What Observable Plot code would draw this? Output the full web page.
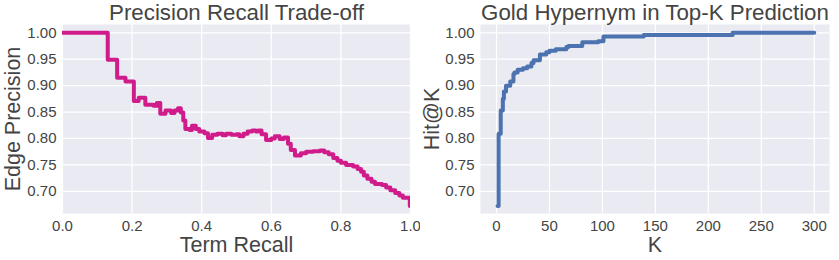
<!DOCTYPE html>
<html>
<head>
<meta charset="utf-8">
<script src="https://cdn.jsdelivr.net/npm/d3@7"></script>
<script src="https://cdn.jsdelivr.net/npm/@observablehq/plot@0.6"></script>
<style>
  html, body { margin: 0; padding: 0; background: #fff; }
  #wrap { position: relative; width: 839px; height: 260px; }
  #left, #right { position: absolute; top: 0; }
  #left { left: 0; }
  #right { left: 420px; }
</style>
</head>
<body>
<div id="wrap"><div id="left"></div><div id="right"></div></div>
<script>
// Left chart: precision-recall trade-off (step points)
const recall = [0.000, 0.130, 0.157, 0.181, 0.205, 0.219, 0.238, 0.262, 0.271, 0.281,
  0.296, 0.312, 0.322, 0.332, 0.340, 0.347, 0.353, 0.365, 0.372, 0.383,
  0.393, 0.408, 0.418, 0.430, 0.445, 0.460, 0.470, 0.485, 0.500, 0.508,
  0.520, 0.532, 0.545, 0.556, 0.563, 0.572, 0.585, 0.600, 0.610, 0.624,
  0.636, 0.648, 0.656, 0.668, 0.685, 0.700, 0.720, 0.740, 0.752, 0.765,
  0.778, 0.790, 0.800, 0.815, 0.835, 0.848, 0.858, 0.866, 0.876, 0.888,
  0.898, 0.918, 0.930, 0.942, 0.956, 0.968, 0.978, 0.998, 1.000];
const precision = [1.000, 0.949, 0.915, 0.908, 0.871, 0.877, 0.864, 0.862, 0.867, 0.847,
  0.853, 0.848, 0.853, 0.857, 0.849, 0.834, 0.818, 0.816, 0.824, 0.818,
  0.813, 0.810, 0.801, 0.807, 0.809, 0.806, 0.809, 0.807, 0.808, 0.804,
  0.809, 0.813, 0.815, 0.813, 0.815, 0.808, 0.797, 0.800, 0.804, 0.799,
  0.802, 0.790, 0.778, 0.768, 0.772, 0.775, 0.776, 0.777, 0.774, 0.770,
  0.763, 0.758, 0.754, 0.750, 0.747, 0.742, 0.737, 0.730, 0.724, 0.718,
  0.714, 0.712, 0.707, 0.702, 0.697, 0.692, 0.688, 0.672, 0.672];

// Right chart: Hit@K (change points)
const kValues = [1, 2, 4, 6, 7, 9, 13, 16, 17, 20, 25, 29, 33, 35, 41, 47, 50, 56, 66, 68,
  81, 96, 101, 139, 223, 300];
const hitAtK = [0.672, 0.809, 0.853, 0.875, 0.889, 0.900, 0.908, 0.922, 0.925, 0.930,
  0.933, 0.936, 0.943, 0.948, 0.959, 0.963, 0.966, 0.969, 0.973, 0.975,
  0.982, 0.984, 0.993, 0.996, 1.000, 1.000];

const yTicks = [0.70, 0.75, 0.80, 0.85, 0.90, 0.95, 1.00];
const xTicksLeft = [0.0, 0.2, 0.4, 0.6, 0.8, 1.0];
const xTicksRight = [0, 50, 100, 150, 200, 250, 300];

const titles = ["Precision Recall Trade-off", "Gold Hypernym in Top-K Prediction"];
const xLabels = ["Term Recall", "K"];
const yLabels = ["Edge Precision", "Hit@K"];

const prData = recall.map((r, i) => ({x: r, y: precision[i]}));
const hitData = kValues.map((k, i) => ({x: k, y: hitAtK[i]}));

const BG = "#EAEAF2";
const TXT = "#444";
const FONT = "'Liberation Sans', Arial, sans-serif";

function chart({data, color, xDomain, xTicks, xFmt, title, xLabel, yLabel, width, marginLeft, marginRight, yDx}) {
  return Plot.plot({
    width, height: 260,
    marginLeft, marginRight, marginTop: 24, marginBottom: 47,
    style: {fontFamily: FONT, fontSize: "15px", color: TXT, background: "white", overflow: "visible"},
    x: {domain: xDomain},
    y: {domain: [0.658, 1.0157]},
    marks: [
      Plot.frame({fill: BG, stroke: null}),
      Plot.gridX(xTicks, {stroke: "white", strokeOpacity: 1, strokeWidth: 1.2}),
      Plot.gridY(yTicks, {stroke: "white", strokeOpacity: 1, strokeWidth: 1.2}),
      Plot.axisX(xTicks, {tickSize: 0, tickPadding: 7, tickFormat: xFmt, label: null, fontSize: 15}),
      Plot.axisY(yTicks, {tickSize: 0, tickPadding: 6, tickFormat: d3.format(".2f"), label: null, fontSize: 15}),
      Plot.line(data, {x: "x", y: "y", curve: "step-after", stroke: color, strokeWidth: 4, clip: true}),
      Plot.text([title], {text: d => d, frameAnchor: "top", textAnchor: "middle", lineAnchor: "bottom", dy: -4.5, fontSize: 22.3, fill: TXT}),
      Plot.text([xLabel], {text: d => d, frameAnchor: "bottom", textAnchor: "middle", lineAnchor: "middle", dy: 31.6, fontSize: 21.5, fill: TXT}),
      Plot.text([yLabel], {text: d => d, frameAnchor: "left", textAnchor: "middle", lineAnchor: "middle", rotate: -90, dx: yDx, fontSize: 21.5, fill: TXT})
    ]
  });
}

document.getElementById("left").append(chart({
  data: prData, color: "#d01c8b", xDomain: [0, 1], xTicks: xTicksLeft, xFmt: d3.format(".1f"),
  title: titles[0], xLabel: xLabels[0], yLabel: yLabels[0], width: 420, marginLeft: 62, marginRight: 10, yDx: -49
}));
document.getElementById("right").append(chart({
  data: hitData, color: "#4C72B0", xDomain: [-15.1, 314.4], xTicks: xTicksRight, xFmt: d3.format("d"),
  title: titles[1], xLabel: xLabels[1], yLabel: yLabels[1], width: 419, marginLeft: 60, marginRight: 10, yDx: -48
}));
</script>
</body>
</html>
